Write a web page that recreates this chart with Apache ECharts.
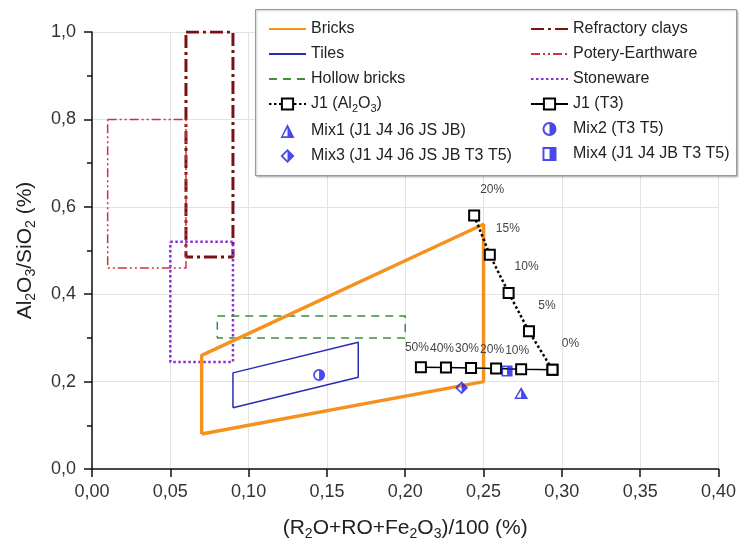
<!DOCTYPE html>
<html>
<head>
<meta charset="utf-8">
<script src="https://cdn.jsdelivr.net/npm/echarts@6/dist/echarts.min.js"></script>
<style>html,body{margin:0;padding:0;background:#fff}#c{width:739px;height:546px}</style>
</head>
<body>
<div id="c"></div>
<script>
// ---- data ----
const xTicks = { min: 0, max: 0.4, interval: 0.05 };
const yTicks = { min: 0, max: 1.0, interval: 0.2 };

const bricksX = [0.07, 0.07, 0.25, 0.25, 0.07];
const bricksY = [0.08, 0.26, 0.56, 0.20, 0.08];

const tilesX = [0.09, 0.09, 0.17, 0.17, 0.09];
const tilesY = [0.14, 0.22, 0.29, 0.21, 0.14];

const hollowX = [0.08, 0.20, 0.20, 0.08, 0.08];
const hollowY = [0.35, 0.35, 0.30, 0.30, 0.35];

const refractoryX = [0.06, 0.09, 0.09, 0.06, 0.06];
const refractoryY = [1.00, 1.00, 0.485, 0.485, 1.00];

const potteryX = [0.01, 0.06, 0.06, 0.01, 0.01];
const potteryY = [0.80, 0.80, 0.46, 0.46, 0.80];

const stonewareX = [0.05, 0.09, 0.09, 0.05, 0.05];
const stonewareY = [0.52, 0.52, 0.245, 0.245, 0.52];

const j1AlX = [0.244, 0.254, 0.266, 0.279, 0.294];
const j1AlY = [0.580, 0.490, 0.403, 0.315, 0.227];
const j1AlLabels = ['20%', '15%', '10%', '5%', '0%'];

const j1T3X = [0.210, 0.226, 0.242, 0.258, 0.274, 0.294];
const j1T3Y = [0.233, 0.232, 0.231, 0.230, 0.228, 0.227];
const j1T3Labels = ['50%', '40%', '30%', '20%', '10%', ''];

const mix1 = [0.274, 0.174];
const mix2 = [0.145, 0.215];
const mix3 = [0.236, 0.186];
const mix4 = [0.265, 0.224];

const names = {
  bricks: 'Bricks', tiles: 'Tiles', hollow: 'Hollow bricks',
  refractory: 'Refractory clays', pottery: 'Potery-Earthware', stoneware: 'Stoneware',
  j1Al: 'J1 (Al2O3)', j1T3: 'J1 (T3)',
  mix1: 'Mix1 (J1 J4 J6 JS JB)', mix2: 'Mix2 (T3 T5)',
  mix3: 'Mix3 (J1 J4 J6 JS JB T3 T5)', mix4: 'Mix4 (J1 J4 JB T3 T5)'
};

// ---- helpers ----
const zip = (xs, ys) => xs.map((x, i) => [x, ys[i]]);
const FONT = '"Liberation Sans", Arial, sans-serif';
const BLUE = '#1c1ce6';

// half-filled symbols (outline + right half filled)
const triPath = 'path://M50 0 L100 100 L0 100 Z M50 28 L17 88 L50 88 Z';
const circPath = 'path://M50 0 A50 50 0 1 1 50 100 A50 50 0 1 1 50 0 Z M50 14 A36 36 0 0 0 50 86 L50 14 Z';
const diaPath = 'path://M50 0 L100 50 L50 100 L0 50 Z M50 18 L18 50 L50 82 Z';
const sqPath = 'path://M0 0 L100 0 L100 100 L0 100 Z M14 14 L14 86 L50 86 L50 14 Z';

function poly(name, xs, ys, color, width, type, z) {
  return {
    name, type: 'line', data: zip(xs, ys), symbol: 'none', z: z || 2,
    lineStyle: { color, width, type }, itemStyle: { color },
    silent: true, animation: false
  };
}

const chart = echarts.init(document.getElementById('c'), null, { renderer: 'canvas' });

const legendRich = {
  a: { fontSize: 16, fontFamily: FONT, color: '#222', lineHeight: 20, verticalAlign: 'middle' },
  s: { fontSize: 11, fontFamily: FONT, color: '#222', lineHeight: 11, verticalAlign: 'bottom' }
};
const legendFmt = n => n === names.j1Al ? '{a|J1 (Al}{s|2}{a|O}{s|3}{a|)}' : '{a|' + n + '}';
const polyNames = [names.bricks, names.tiles, names.hollow, names.refractory, names.pottery, names.stoneware];
const legItem = n => polyNames.indexOf(n) >= 0 ? { name: n, itemStyle: { opacity: 0 } } : { name: n };

const legendCommon = {
  orient: 'vertical', itemWidth: 37, itemHeight: 14, itemGap: 9, padding: 0,
  textStyle: { fontSize: 16, fontFamily: FONT, color: '#222', rich: legendRich },
  formatter: legendFmt, selectedMode: false, z: 5
};

const axisRich = {
  a: { fontSize: 21, fontFamily: FONT, color: '#222', lineHeight: 26, verticalAlign: 'middle' },
  s: { fontSize: 14, fontFamily: FONT, color: '#222', lineHeight: 12, verticalAlign: 'bottom' }
};

chart.setOption({
  animation: false,
  backgroundColor: '#fff',
  grid: { left: 92, right: 20, top: 32, bottom: 72, containLabel: false },
  graphic: [{
    type: 'rect', z: 4,
    shape: { x: 255.5, y: 9.5, width: 481, height: 166 },
    style: { fill: '#fff', stroke: '#9a9a9a', lineWidth: 1, shadowBlur: 2, shadowColor: 'rgba(0,0,0,0.25)', shadowOffsetX: 1, shadowOffsetY: 1 }
  }],
  legend: [
    Object.assign({}, legendCommon, {
      left: 268, top: 21,
      data: [names.bricks, names.tiles, names.hollow, names.j1Al, names.mix1, names.mix3].map(legItem)
    }),
    Object.assign({}, legendCommon, {
      left: 530, top: 21,
      data: [names.refractory, names.pottery, names.stoneware, names.j1T3, names.mix2, names.mix4].map(legItem)
    })
  ],
  xAxis: {
    type: 'value', min: xTicks.min, max: xTicks.max, interval: xTicks.interval,
    name: '{a|(R}{s|2}{a|O+RO+Fe}{s|2}{a|O}{s|3}{a|)/100 (%)}',
    nameLocation: 'middle', nameGap: 46,
    nameTextStyle: { fontFamily: FONT, color: '#222', rich: axisRich },
    axisLine: { show: true, onZero: false, lineStyle: { color: '#111', width: 1.5 } },
    axisTick: { show: true, length: 8, lineStyle: { color: '#111', width: 1.5 } },
    axisLabel: {
      fontSize: 18, fontFamily: FONT, color: '#333', margin: 14,
      formatter: v => v.toFixed(2).replace('.', ',')
    },
    splitLine: { show: true, lineStyle: { color: '#e3e3e3', width: 1 } }
  },
  yAxis: {
    type: 'value', min: yTicks.min, max: yTicks.max, interval: yTicks.interval,
    name: '{a|Al}{s|2}{a|O}{s|3}{a|/SiO}{s|2}{a| (%)}',
    nameLocation: 'middle', nameGap: 54, nameRotate: 90,
    nameTextStyle: { fontFamily: FONT, color: '#222', rich: axisRich },
    axisLine: { show: true, onZero: false, lineStyle: { color: '#111', width: 1.5 } },
    axisTick: { show: true, length: 8, lineStyle: { color: '#111', width: 1.5 } },
    minorTick: { show: true, splitNumber: 2, length: 5, lineStyle: { color: '#111', width: 1.5 } },
    axisLabel: {
      fontSize: 18, fontFamily: FONT, color: '#333', margin: 16,
      formatter: v => v.toFixed(1).replace('.', ',')
    },
    splitLine: { show: true, lineStyle: { color: '#e3e3e3', width: 1 } }
  },
  series: [
    poly(names.refractory, refractoryX, refractoryY, '#7a1212', 3, [13, 4, 3, 4], 2),
    poly(names.pottery, potteryX, potteryY, '#cc3340', 1.5, [9, 3, 2, 3, 2, 3], 2),
    poly(names.stoneware, stonewareX, stonewareY, '#8e2fd6', 2.5, [2.5, 2.5], 2),
    poly(names.hollow, hollowX, hollowY, '#3b8f3b', 1.5, [8, 6], 2),
    poly(names.tiles, tilesX, tilesY, '#2a2ab5', 1.5, 'solid', 3),
    poly(names.bricks, bricksX, bricksY, '#f5921e', 3.5, 'solid', 3),
    {
      name: names.j1Al, type: 'line', data: zip(j1AlX, j1AlY), z: 5,
      symbol: 'rect', symbolSize: 10,
      lineStyle: { color: '#000', width: 2.5, type: [2.5, 2.5] },
      itemStyle: { color: '#fff', borderColor: '#000', borderWidth: 2 },
      label: {
        show: true, position: 'inside', offset: [18, -26],
        fontSize: 12, fontFamily: FONT, color: '#444',
        formatter: p => j1AlLabels[p.dataIndex]
      }
    },
    {
      name: names.j1T3, type: 'line', data: zip(j1T3X, j1T3Y), z: 5,
      symbol: 'rect', symbolSize: 10,
      lineStyle: { color: '#000', width: 1.5 },
      itemStyle: { color: '#fff', borderColor: '#000', borderWidth: 2 },
      label: {
        show: true, position: 'inside', offset: [-4, -19],
        fontSize: 12, fontFamily: FONT, color: '#444',
        formatter: p => j1T3Labels[p.dataIndex]
      }
    },
    { name: names.mix1, type: 'scatter', data: [mix1], symbol: triPath, symbolSize: [14, 12], z: 6, itemStyle: { color: BLUE } },
    { name: names.mix2, type: 'scatter', data: [mix2], symbol: circPath, symbolSize: 12, z: 6, itemStyle: { color: BLUE } },
    { name: names.mix3, type: 'scatter', data: [mix3], symbol: diaPath, symbolSize: 13, z: 6, itemStyle: { color: BLUE } },
    { name: names.mix4, type: 'scatter', data: [mix4], symbol: sqPath, symbolSize: 11, z: 6, itemStyle: { color: BLUE } }
  ]
});
</script>
</body>
</html>
